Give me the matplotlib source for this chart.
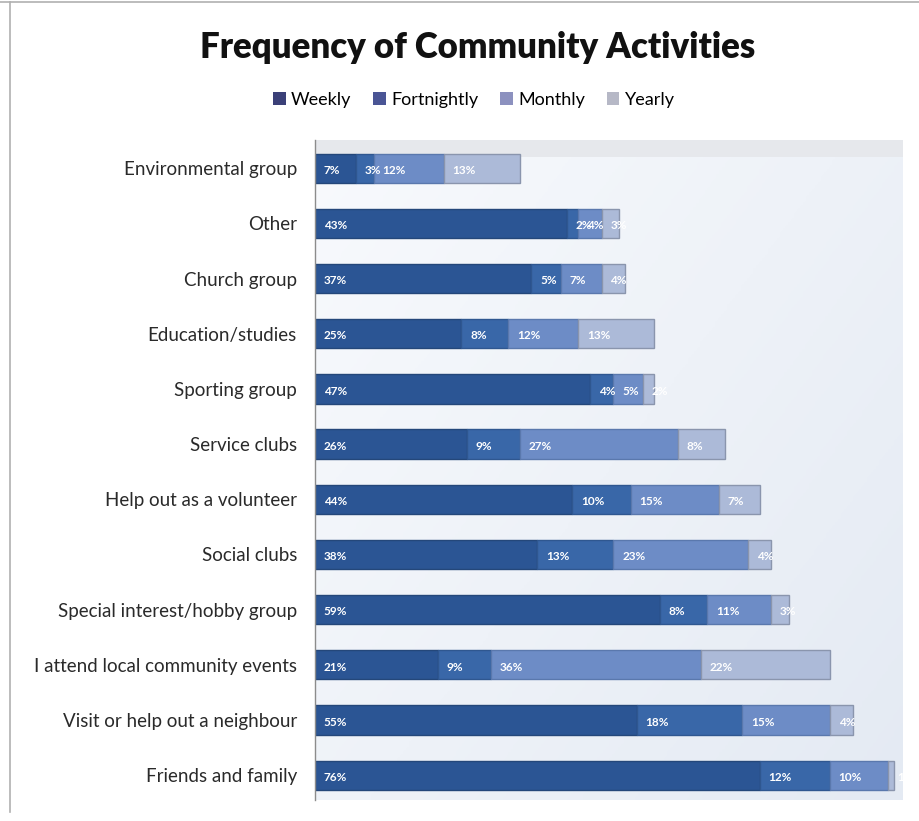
import numpy as np
import matplotlib.pyplot as plt
from matplotlib.patches import Patch
from matplotlib.lines import Line2D
from matplotlib.colors import LinearSegmentedColormap

plt.rcParams['font.family'] = ['Lato', 'DejaVu Sans']

# Share of respondents (%) by how often they take part
activities = ['Environmental group', 'Other', 'Church group', 'Education/studies',
              'Sporting group', 'Service clubs', 'Help out as a volunteer',
              'Social clubs', 'Special interest/hobby group',
              'I attend local community events', 'Visit or help out a neighbour',
              'Friends and family']
weekly = [7, 43, 37, 25, 47, 26, 44, 38, 59, 21, 55, 76]
fortnightly = [3, 2, 5, 8, 4, 9, 10, 13, 8, 9, 18, 12]
monthly = [12, 4, 7, 12, 5, 27, 15, 23, 11, 36, 15, 10]
yearly = [13, 3, 4, 13, 2, 8, 7, 4, 3, 22, 4, 1]

series_names = ['Weekly', 'Fortnightly', 'Monthly', 'Yearly']
series = [weekly, fortnightly, monthly, yearly]
bar_colors = ['#2b5594', '#3967a8', '#6d8cc6', '#acbad8']
edge_colors = ['#24477a', '#2f5790', '#5a78ad', '#8a95ad']
legend_colors = ['#3b4078', '#4a5595', '#8c91bf', '#b6b8c6']

fig = plt.figure(figsize=(9.2, 8.21), dpi=100)
ax = fig.add_axes([315 / 920, 1 - 800 / 821, 588 / 920, 660 / 821])

# soft gradient behind the bars
bg = LinearSegmentedColormap.from_list('bg', ['#f8fafd', '#e4eaf3'])
gx, gy = np.meshgrid(np.linspace(0, 1, 200), np.linspace(0, 1, 200))
ax.imshow(np.clip(0.55 * gx + 0.45 * gy, 0, 1), cmap=bg, extent=[0, 100.5, 11.45, -0.51],
          aspect='auto', zorder=0)
ax.axhspan(-0.51, -0.2, color='#e6e8ec', zorder=0.5, lw=0)

y = np.arange(len(activities))
left = np.zeros(len(activities))
for name, vals, c, ec in zip(series_names, series, bar_colors, edge_colors):
    vals = np.array(vals, dtype=float)
    ax.barh(y, vals, left=left, height=0.53, color=c, edgecolor=ec, linewidth=1,
            label=name, zorder=2)
    for yi, l, v in zip(y, left, vals):
        ax.text(l + 1.5, yi + 0.04, f'{int(v)}%', color='white', fontsize=8.5,
                fontweight='bold', va='center', ha='left', zorder=3, clip_on=True)
    left += vals

ax.set_xlim(0, 100.5)
ax.set_ylim(11.45, -0.51)
ax.set_yticks(y)
ax.set_yticklabels(activities, fontsize=13.5, color='#2a2a2a')
ax.tick_params(axis='y', length=0, pad=13)
ax.set_xticks([])
for side in ['top', 'right', 'bottom']:
    ax.spines[side].set_visible(False)
ax.spines['left'].set_color('#8c8c8c')
ax.spines['left'].set_linewidth(1)

fig.text(0.519, 1 - 48 / 821, 'Frequency of Community Activities', ha='center', va='center',
         fontsize=25, fontweight='heavy', color='#111111')

handles = [Patch(facecolor=c, edgecolor='none') for c in legend_colors]
fig.legend(handles, series_names, loc='center', bbox_to_anchor=(0.515, 1 - 100 / 821),
           ncol=4, frameon=False, fontsize=13, handlelength=0.7, handleheight=0.7,
           handletextpad=0.3, columnspacing=1.2)

# outer chart border (top and left edges)
fig.add_artist(Line2D([0, 1], [1 - 2 / 821, 1 - 2 / 821], color='#b0b0b0', lw=1.2))
fig.add_artist(Line2D([10 / 920, 10 / 920], [1 - 2 / 821, 1 - 812 / 821], color='#b0b0b0', lw=1.2))

fig.savefig('out.png', dpi=100)
